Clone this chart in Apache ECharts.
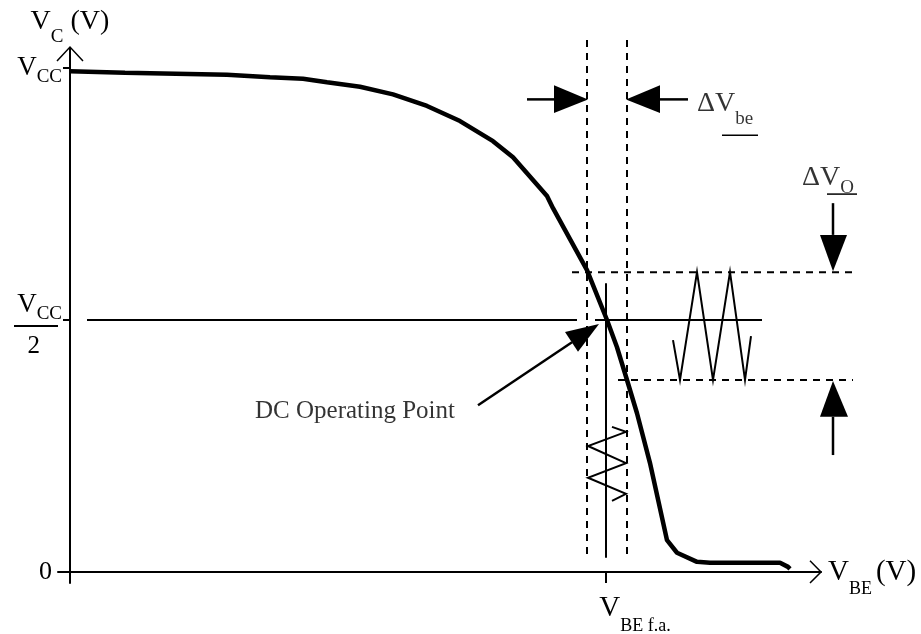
<!DOCTYPE html>
<html>
<head>
<meta charset="utf-8">
<title>VC vs VBE transfer characteristic</title>
<script src="https://cdn.jsdelivr.net/npm/echarts@6/dist/echarts.min.js"></script>
<style>
    html, body { margin: 0; padding: 0; background: #fff; }
    #main { width: 921px; height: 634px; }
</style>
</head>
<body>
<div id="main"></div>
<script>
    var serif = "'Liberation Serif', 'Times New Roman', serif";

    // transfer curve: VBE in axis units (VBE f.a. = 536), VC in volts (VCC = 10)
    var curveX = [0, 55, 157, 200, 233, 257, 290, 323, 357, 390, 423, 443, 477, 483, 517, 537, 547, 557, 567, 580, 597, 607, 627, 640, 710, 718, 720];
    var curveY = [9.94, 9.91, 9.87, 9.82, 9.79, 9.72, 9.63, 9.48, 9.25, 8.95, 8.55, 8.23, 7.46, 7.22, 5.99, 5.0, 4.46, 3.81, 3.15, 2.16, 0.63, 0.38, 0.2, 0.18, 0.18, 0.1, 0.06];

    var yTickValues = [0, 5, 10];   // 0, VCC/2, VCC
    var xTickValues = [536];        // VBE f.a.

    // input swing (around VBE f.a.) and output swing (around VCC/2)
    var inWaveX = [542, 556, 518, 556, 518, 556, 542];
    var inWaveY = [2.88, 2.78, 2.50, 2.16, 1.87, 1.55, 1.41];
    var outWaveX = [603, 610, 627, 643, 660, 675, 681];
    var outWaveY = [4.60, 3.81, 5.95, 3.81, 5.95, 3.81, 4.68];

    // guide lines, [from, to]
    var solidLines = [
        [[17, 5], [507, 5]],
        [[525, 5], [692, 5]],
        [[536, 5.73], [536, 0.28]]
    ];
    var dashedLines = [
        [[517, 10.56], [517, 0.28]],
        [[557, 10.56], [557, 0.28]],
        [[502, 5.95], [783, 5.95]],
        [[548, 3.81], [783, 3.81]]
    ];
    var arrowShafts = [
        [[408, 3.31], [502, 4.56]],
        [[457, 9.38], [484, 9.38]],
        [[590, 9.38], [618, 9.38]],
        [[763, 7.32], [763, 6.69]],
        [[763, 3.08], [763, 2.32]]
    ];
    var arrowHeads = [
        [[529, 4.92], [495, 4.76], [508, 4.37]],
        [[518, 9.38], [484, 9.66], [484, 9.11]],
        [[556, 9.38], [590, 9.66], [590, 9.11]],
        [[763, 5.97], [750, 6.69], [777, 6.69]],
        [[763, 3.79], [750, 3.08], [778, 3.08]]
    ];
    var axisArrows = [
        [[-13, 10.14], [0, 10.42], [13, 10.14]],
        [[740, 0.22], [751, 0], [740, -0.22]]
    ];
    var underlines = [
        [[652, 8.67], [688, 8.67]],
        [[757, 7.5], [787, 7.5]]
    ];

    var notes = [
        { text: '{t|DC Operating Point}', at: [185, 3.19] },
        { text: '{v|\u0394V}{s|be}', at: [627, 9.29] },
        { text: '{v|\u0394V}{so|O}', at: [732, 7.82] }
    ];

    function zip(xs, ys) {
        return xs.map(function (x, i) { return [x, ys[i]]; });
    }

    // polylines / polygons drawn through the axes, not clipped to the grid
    function pathSeries(group, width, dash, filled) {
        return {
            type: 'custom',
            coordinateSystem: 'cartesian2d',
            silent: true,
            clip: false,
            data: group.map(function (pts) { return pts[0]; }),
            renderItem: function (params, api) {
                var pts = group[params.dataIndex].map(function (p) { return api.coord(p); });
                if (filled) {
                    return { type: 'polygon', shape: { points: pts }, style: { fill: '#000' } };
                }
                return {
                    type: 'polyline',
                    shape: { points: pts },
                    style: { stroke: '#000', lineWidth: width, fill: 'none', lineDash: dash || null }
                };
            }
        };
    }

    var series = [
        {
            type: 'line',
            data: zip(curveX, curveY),
            symbol: 'none',
            silent: true,
            clip: false,
            lineStyle: { color: '#000', width: 4.5 }
        },
        pathSeries([zip(inWaveX, inWaveY), zip(outWaveX, outWaveY)], 2),
        pathSeries(solidLines, 2),
        pathSeries(dashedLines, 2, [7, 6]),
        pathSeries(arrowShafts, 2.5),
        pathSeries(axisArrows, 1.5),
        pathSeries(underlines, 1.5),
        pathSeries(arrowHeads, 0, null, true),
        {
            type: 'scatter',
            symbolSize: 0,
            silent: true,
            data: notes.map(function (n) {
                return { value: n.at, label: { formatter: n.text } };
            }),
            label: {
                show: true,
                position: 'right',
                distance: 0,
                color: '#000',
                fontFamily: serif,
                rich: {
                    t: { fontSize: 25, fontFamily: serif, color: '#000' },
                    v: { fontSize: 28, lineHeight: 30, fontFamily: serif, color: '#000' },
                    s: { fontSize: 19, lineHeight: 30, fontFamily: serif, color: '#000', padding: [30, 0, 0, 0] },
                    so: { fontSize: 19, lineHeight: 30, fontFamily: serif, color: '#000', padding: [20, 0, 0, 0] }
                }
            }
        }
    ];

    var chart = echarts.init(document.getElementById('main'));
    var option = {
        animation: false,
        backgroundColor: '#fff',
        grid: { left: 58, right: 100, top: 48, bottom: 51, containLabel: false, outerBoundsMode: 'none' },
        xAxis: {
            type: 'value',
            min: -12,
            max: 751,
            splitLine: { show: false },
            axisLine: { onZero: true, lineStyle: { color: '#000', width: 2 } },
            axisTick: { customValues: xTickValues, length: 11, lineStyle: { color: '#000', width: 2 } },
            axisLabel: {
                customValues: xTickValues,
                margin: 9,
                color: '#000',
                formatter: function () { return '{v|V}{s|BE f.a.}'; },
                rich: {
                    v: { fontSize: 29, lineHeight: 32, fontFamily: serif, color: '#000', padding: [0, 0, 0, 58] },
                    s: { fontSize: 18, lineHeight: 32, fontFamily: serif, color: '#000', padding: [36, 0, 0, 0] }
                }
            },
            name: '{v|V}{s|BE}{p|(V)}',
            nameLocation: 'end',
            nameGap: 7,
            nameMoveOverlap: false,
            nameTextStyle: {
                rich: {
                    v: { fontSize: 29, lineHeight: 30, fontFamily: serif, color: '#000' },
                    s: { fontSize: 18, lineHeight: 30, fontFamily: serif, color: '#000', padding: [34, 0, 0, 0] },
                    p: { fontSize: 29, lineHeight: 30, fontFamily: serif, color: '#000', padding: [0, 0, 0, 4] }
                }
            }
        },
        yAxis: {
            type: 'value',
            min: -0.22,
            max: 10.4,
            splitLine: { show: false },
            axisLine: { onZero: true, lineStyle: { color: '#000', width: 2 } },
            axisTick: { customValues: [5, 10], length: 7, lineStyle: { color: '#000', width: 2 } },
            axisLabel: {
                customValues: yTickValues,
                margin: -4,
                color: '#000',
                formatter: function (v) {
                    if (v === 0) return '{z|0}';
                    if (v === 10) return '{v|V}{s|CC}';
                    return '{fv|V}{fs|CC}\n{bar|}{gap|}\n{two|2}{gap2|}';
                },
                rich: {
                    z: { fontSize: 26, fontFamily: serif, color: '#000', padding: [0, 10, 0, 0] },
                    v: { fontSize: 27, lineHeight: 30, fontFamily: serif, color: '#000' },
                    s: { fontSize: 19, lineHeight: 30, fontFamily: serif, color: '#000', padding: [18, 0, 0, 0] },
                    fv: { fontSize: 27, lineHeight: 28, fontFamily: serif, color: '#000', padding: [10, 0, 0, 0] },
                    fs: { fontSize: 19, lineHeight: 28, fontFamily: serif, color: '#000', padding: [28, 0, 0, 0] },
                    bar: { width: 44, height: 2, lineHeight: 24, backgroundColor: '#000' },
                    gap: { width: 4, height: 2, lineHeight: 24 },
                    two: { fontSize: 25, lineHeight: 16, fontFamily: serif, color: '#000' },
                    gap2: { width: 22, height: 2, lineHeight: 16 }
                }
            },
            name: '{v|V}{s|C}{p| (V)}',
            nameLocation: 'end',
            nameGap: 11,
            nameMoveOverlap: false,
            nameTextStyle: {
                rich: {
                    v: { fontSize: 28, lineHeight: 30, fontFamily: serif, color: '#000' },
                    s: { fontSize: 19, lineHeight: 30, fontFamily: serif, color: '#000', padding: [30, 0, 0, 0] },
                    p: { fontSize: 28, lineHeight: 30, fontFamily: serif, color: '#000' }
                }
            }
        },
        series: series
    };
    chart.setOption(option);
</script>
</body>
</html>
